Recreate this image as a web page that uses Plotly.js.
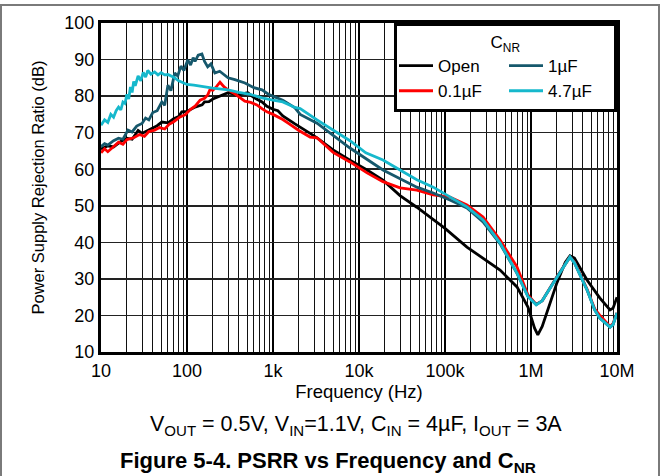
<!DOCTYPE html>
<html>
<head>
<meta charset="utf-8">
<script src="https://cdn.plot.ly/plotly-3.0.1.min.js"></script>
<style>
html,body{margin:0;padding:0;background:#fff;}
#wrap{position:relative;width:664px;height:476px;overflow:hidden;}
#chart{position:absolute;left:0;top:0;width:664px;height:476px;}
#frame{position:absolute;left:0;top:4px;width:656px;height:480px;border:2px solid #7a7a7a;pointer-events:none;}
</style>
</head>
<body>
<div id="wrap"><div id="chart"></div><div id="frame"></div></div>
<script>
// ---- data ----
const openFreq = [10,12,14,17,20,23,27,30,35,40,45,51,60,70,80,87,100,124,150,160,180,200,230,260,300,350,390,450,510,600,745,850,1000,1140,1300,1800,2200,2700,3250,5000,7850,12400,19000,30000,47000,73000,100000,180000,300000,437000,687000,922000,1100000,1200000,1350000,1530000,2000000,2500000,2840000,3200000,4480000,6300000,8300000,9000000,10000000];
const openDb = [65.5,66.4,66.1,67.6,68.5,68.2,70.6,69.8,70.6,71.2,71.9,72.9,72.7,73.8,74.4,75.7,75.8,77.0,77.6,78.4,78.5,79.2,79.8,80.2,80.9,80.6,80.3,80.7,80.9,79.6,78.4,77.2,76.4,76.0,74.6,72.4,71.0,69.8,68.6,65.3,62.5,59.8,57.0,52.8,49.6,46.1,43.8,38.7,35.0,32.4,27.8,22.3,16.5,14.7,17.0,20.7,28.9,34.5,36.3,35.7,29.7,24.8,21.5,22.0,25.0];

const r01Freq = [10,11,12,14,16,18,20,24,28,32,36,42,48,55,62,70,83,95,110,125,142,160,175,185,200,220,242,270,300,350,400,470,550,650,750,850,1000,1300,1500,2000,2700,3250,5000,7850,12400,19000,30000,47000,73000,114000,180000,277000,437000,687000,922000,1150000,1350000,1530000,2000000,2840000,3200000,4480000,5500000,6300000,8300000,9000000,10000000];
const r01Db = [64.5,65.6,64.8,66.2,67.4,66.8,68.1,68.6,69.5,69.0,70.3,70.7,71.4,71.0,72.3,73.0,74.3,74.9,76.4,77.3,78.9,79.4,80.4,81.8,81.6,82.6,83.8,82.5,81.7,80.8,79.8,78.6,78.3,77.6,76.5,75.7,75.0,73.6,72.6,70.6,68.8,68.6,64.6,62.0,59.0,56.6,54.9,54.3,53.0,52.4,50.2,46.9,40.6,33.3,25.6,23.0,24.0,26.1,30.6,36.0,34.6,27.2,21.8,20.1,17.0,17.8,20.7];

const c1Freq = [10,11,12,14,16,18,20.6,23,26,30,33,36,40,45,51,55,60,65,72,78,85,92,102,110,118,124,135,149,160,174,190,211,240,300,360,472,600,745,900,1140,1300,1800,2070,3250,7850,19000,30000,47000,73000,114000,180000,277000,437000,687000,922000,1150000,1350000,1530000,2000000,2840000,3200000,4480000,5500000,6300000,8300000,9000000,10000000];
const c1Db = [66.2,67.0,66.6,67.8,68.5,68.2,70.7,70.2,71.8,72.5,74.0,73.5,75.5,76.0,78.4,77.5,83.0,81.5,86.3,85.5,88.2,87.0,89.9,88.5,90.5,89.5,91.2,91.5,89.5,88.0,88.8,86.3,86.8,85.0,84.5,83.6,82.3,81.7,80.4,79.5,78.9,76.8,75.0,72.6,65.8,59.8,57.5,55.1,53.5,51.6,49.4,45.6,39.6,31.5,25.2,23.0,24.0,26.1,30.5,36.0,34.4,27.0,21.5,19.3,16.8,17.5,20.7];

const c47Freq = [10,11,12,13,14,15,16,17,18,19,20,21,22,23,24,25,27,29,31,33,35,38,42,46,50,55,60,70,80,90,100,120,150,200,300,400,540,745,1000,1300,1800,2070,3250,5000,7850,12000,19000,30000,47000,73000,114000,180000,277000,437000,687000,922000,1150000,1350000,1530000,2000000,2840000,3200000,4480000,5500000,6300000,8300000,9000000,10000000];
const c47Db = [72.0,73.5,72.8,75.0,74.2,76.0,77.0,76.2,78.4,78.0,80.5,79.2,82.5,81.0,84.0,82.8,85.5,84.2,86.5,85.2,87.0,86.0,86.6,85.8,86.4,85.8,85.9,85.2,84.2,83.6,83.2,83.0,82.6,82.2,81.7,81.0,80.5,79.5,78.9,78.4,76.9,76.6,73.5,70.8,67.8,64.5,62.5,59.8,57.1,55.1,52.4,49.7,46.1,39.8,31.6,25.1,22.9,24.0,26.1,30.5,36.0,34.4,27.0,21.5,19.3,16.8,17.5,20.7];

const seriesNames = ['Open','0.1\u00b5F','1\u00b5F','4.7\u00b5F'];
const xTickVals = [10,100,1000,10000,100000,1000000,10000000];
const xTickText = ['10','100','1k','10k','100k','1M','10M'];

// ---- chart ----
const FONT = 'Liberation Sans, Arial, sans-serif';
const minorVals = [];
for (let d = 10; d < 1e7; d *= 10) for (let k = 2; k <= 9; k++) minorVals.push(d * k);

const colors = ['#000000', '#ff0000', '#16586c', '#16b8cc'];
const groups = ['a', 'a', 'b', 'b'];
const xs = [openFreq, r01Freq, c1Freq, c47Freq];
const ys = [openDb, r01Db, c1Db, c47Db];

const traces = seriesNames.map((n, i) => ({
  x: xs[i], y: ys[i], name: n, type: 'scatter', mode: 'lines',
  line: {color: colors[i], width: 2.8},
  legendgroup: groups[i]
}));

const layout = {
  width: 664, height: 476,
  margin: {l: 101, r: 47, t: 23, b: 124},
  paper_bgcolor: '#fff', plot_bgcolor: '#fff',
  font: {family: FONT, size: 17, color: '#000'},
  showlegend: true,
  legend: {
    orientation: 'h', traceorder: 'grouped',
    x: 1, xanchor: 'right', y: 1, yanchor: 'top',
    bgcolor: '#fff', bordercolor: '#000', borderwidth: 3,
    font: {family: FONT, size: 17, color: '#000'},
    title: {text: 'C<sub>NR</sub>', side: 'top center', font: {family: FONT, size: 17}},
    tracegroupgap: 0, itemwidth: 34,
    entrywidth: 61, entrywidthmode: 'pixels'
  },
  xaxis: {
    type: 'log', range: [1, 7],
    tickmode: 'array', tickvals: xTickVals, ticktext: xTickText,
    ticks: '', showgrid: true, gridcolor: '#000', gridwidth: 1.6,
    minor: {tickmode: 'array', tickvals: minorVals, showgrid: true, gridcolor: '#111', gridwidth: 1, ticks: ''},
    showline: true, linecolor: '#000', linewidth: 3, mirror: true,
    zeroline: false,
    tickfont: {family: FONT, size: 18},
    title: {text: 'Frequency (Hz)', font: {family: FONT, size: 18.5}, standoff: 2}
  },
  yaxis: {
    range: [10, 100], tickmode: 'linear', tick0: 10, dtick: 10,
    ticks: '', showgrid: true, gridcolor: '#222', gridwidth: 1.5,
    showline: true, linecolor: '#000', linewidth: 3, mirror: true,
    zeroline: false,
    tickfont: {family: FONT, size: 18},
    title: {text: 'Power Supply Rejection Ratio (dB)', font: {family: FONT, size: 16.5}, standoff: 16}
  },
  annotations: [
    {xref: 'paper', yref: 'paper', x: 0.091, y: -0.222, xanchor: 'left', yanchor: 'middle', showarrow: false,
     text: 'V<sub>OUT</sub> = 0.5V, V<sub>IN</sub>=1.1V, C<sub>IN</sub> = 4\u00b5F, I<sub>OUT</sub> = 3A',
     font: {family: FONT, size: 21.5, color: '#000'}},
    {xref: 'paper', yref: 'paper', x: 0.033, y: -0.333, xanchor: 'left', yanchor: 'middle', showarrow: false,
     text: '<b>Figure 5-4. PSRR vs Frequency and C<sub>NR</sub></b>',
     font: {family: FONT, size: 22, color: '#000'}}
  ]
};

Plotly.newPlot('chart', traces, layout, {displayModeBar: false, staticPlot: true});
</script>
</body>
</html>
